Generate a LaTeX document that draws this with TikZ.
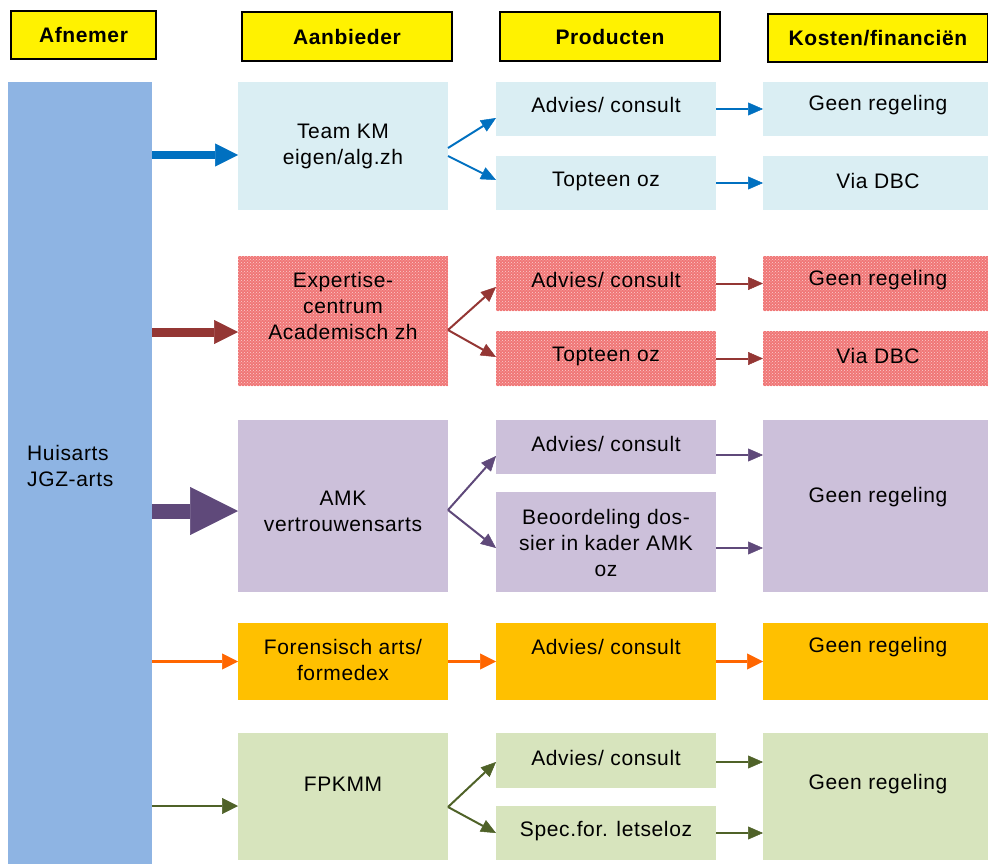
\documentclass[tikz,border=0pt]{standalone}
\usepackage{fontspec}
\setmainfont{Liberation Sans}[LetterSpace=3]
\usetikzlibrary{arrows.meta,patterns}
\definecolor{cCol}{RGB}{142,180,227}
\definecolor{cLB}{RGB}{218,238,243}
\definecolor{cRed}{RGB}{240,118,118}
\definecolor{cPur}{RGB}{204,192,218}
\definecolor{cOr}{RGB}{255,192,0}
\definecolor{cGr}{RGB}{215,228,189}
\definecolor{aB}{RGB}{0,112,192}
\definecolor{aR}{RGB}{148,54,52}
\definecolor{aP}{RGB}{95,73,122}
\definecolor{aO}{RGB}{255,102,0}
\definecolor{aG}{RGB}{79,98,40}
\begin{document}
\begin{tikzpicture}[x=1pt,y=-1pt,
  box/.style={inner sep=0pt, outer sep=0pt, anchor=north west, draw=none},
  redbox/.style={box, fill=cRed, postaction={pattern=crosshatch dots, pattern color=white!65!cRed}},
  hdr/.style={draw=black, line width=2pt, fill=yellow, inner sep=0pt, anchor=north west, font=\fontsize{21}{26}\selectfont\bfseries},
  txt/.style={align=center, inner sep=0pt, font=\fontsize{21}{26}\selectfont},
  thin/.style={line width=2pt, -{Triangle[length=15pt,width=13pt,line width=0.5pt]}},
  fat/.style={-{Triangle[length=#1pt,width=#1pt,line width=0.5pt]}}
]
\useasboundingbox (0,0) rectangle (988,864);
% headers
\node[hdr, minimum width=145, minimum height=48] (h1) at (10,10) {};
\node[txt, font=\fontsize{21}{26}\selectfont\bfseries] (h1t) at (h1.center) {Afnemer};
\node[hdr, minimum width=210, minimum height=49] (h2) at (241,11) {};
\node[txt, font=\fontsize{21}{26}\selectfont\bfseries] (h2t) at (h2.center) {Aanbieder};
\node[hdr, minimum width=220, minimum height=49] (h3) at (499,11) {};
\node[txt, font=\fontsize{21}{26}\selectfont\bfseries] (h3t) at (h3.center) {Producten};
\node[hdr, minimum width=220, minimum height=48] (h4) at (767,13) {};
\node[txt, font=\fontsize{21}{26}\selectfont\bfseries] (h4t) at (h4.center) {Kosten/financiën};
% column afnemer
\node[box, fill=cCol, minimum width=144, minimum height=782] (afn) at (8,82) {};
\node[txt, align=left, anchor=west] (afnt) at (27,466) {Huisarts\\JGZ-arts};
% aanbieder
\node[box, fill=cLB, minimum width=210, minimum height=128] (tkm) at (238,82) {};
\node[redbox, minimum width=210, minimum height=130] (exp) at (238,256) {};
\node[box, fill=cPur, minimum width=210, minimum height=172] (amk) at (238,420) {};
\node[box, fill=cOr, minimum width=210, minimum height=77] (for) at (238,623) {};
\node[box, fill=cGr, minimum width=210, minimum height=127] (fpk) at (238,733) {};
\node[txt] (tkmt) at (343,146) {Team KM\\eigen/alg.zh};
\node[txt] (expt) at (343,306) {Expertise-\\centrum\\Academisch zh};
\node[txt] (amkt) at (343,511) {AMK\\vertrouwensarts};
\node[txt] (fort) at (343,660) {Forensisch arts/\\formedex};
\node[txt] (fpkt) at (343,784) {FPKMM};
% producten
\node[box, fill=cLB, minimum width=220, minimum height=54] (p1a) at (496,82) {};
\node[box, fill=cLB, minimum width=220, minimum height=54] (p1b) at (496,156) {};
\node[redbox, minimum width=220, minimum height=55] (p2a) at (496,256) {};
\node[redbox, minimum width=220, minimum height=55] (p2b) at (496,331) {};
\node[box, fill=cPur, minimum width=220, minimum height=54] (p3a) at (496,420) {};
\node[box, fill=cPur, minimum width=220, minimum height=100] (p3b) at (496,492) {};
\node[box, fill=cOr, minimum width=220, minimum height=77] (p4) at (496,623) {};
\node[box, fill=cGr, minimum width=220, minimum height=55] (p5a) at (496,733) {};
\node[box, fill=cGr, minimum width=220, minimum height=54] (p5b) at (496,806) {};
\node[txt] (p1at) at (606,105) {Advies/ consult};
\node[txt] (p1bt) at (606,181) {Topteen oz};
\node[txt] (p2at) at (606,280) {Advies/ consult};
\node[txt] (p2bt) at (606,356) {Topteen oz};
\node[txt] (p3at) at (606,444) {Advies/ consult};
\node[txt] (p3bt) at (606,543) {Beoordeling dos-\\sier in kader AMK\\oz};
\node[txt] (p4t) at (606,647) {Advies/ consult};
\node[txt] (p5at) at (606,758) {Advies/ consult};
\node[txt] (p5bt) at (606,831) {Spec.for. letseloz};
% kosten
\node[box, fill=cLB, minimum width=225, minimum height=54] (k1a) at (763,82) {};
\node[box, fill=cLB, minimum width=225, minimum height=54] (k1b) at (763,156) {};
\node[redbox, minimum width=225, minimum height=55] (k2a) at (763,256) {};
\node[redbox, minimum width=225, minimum height=55] (k2b) at (763,331) {};
\node[box, fill=cPur, minimum width=225, minimum height=172] (k3) at (763,420) {};
\node[box, fill=cOr, minimum width=225, minimum height=77] (k4) at (763,623) {};
\node[box, fill=cGr, minimum width=225, minimum height=127] (k5) at (763,733) {};
\node[txt] (k1at) at (878,105) {Geen regeling};
\node[txt] (k1bt) at (878,181) {Via DBC};
\node[txt] (k2at) at (878,280) {Geen regeling};
\node[txt] (k2bt) at (878,356) {Via DBC};
\node[txt] (k3t) at (878,497) {Geen regeling};
\node[txt] (k4t) at (878,647) {Geen regeling};
\node[txt] (k5t) at (878,784) {Geen regeling};
% arrows afnemer -> aanbieder
\coordinate (bin) at ([yshift=-9pt]tkm.west);
\coordinate (rin) at ([yshift=-11pt]exp.west);
\coordinate (pin) at ([yshift=-5pt]amk.west);
\coordinate (gin) at ([yshift=-9.5pt]fpk.west);
\draw[aB, line width=8pt, fat=23] (afn.east |- bin) -- (bin);
\draw[aR, line width=9pt, fat=24] (afn.east |- rin) -- (rin);
\draw[aP, line width=15pt, fat=48] (afn.east |- pin) -- (pin);
\draw[aO, line width=3pt, fat=16] (afn.east |- for.west) -- (for.west);
\draw[aG, line width=2.5pt, fat=16] (afn.east |- gin) -- (gin);
% aanbieder -> producten
\draw[aB, thin] ([yshift=-2pt]tkm.east) -- ([yshift=-9pt]p1a.west);
\draw[aB, thin] ([yshift=-10pt]tkm.east) -- ([yshift=3pt]p1b.west);
\draw[aR, thin] ([yshift=-9pt]exp.east) -- ([yshift=-3.5pt]p2a.west);
\draw[aR, thin] ([yshift=-9pt]exp.east) -- ([yshift=1.5pt]p2b.west);
\draw[aP, thin] ([yshift=-4pt]amk.east) -- ([yshift=-9pt]p3a.west);
\draw[aP, thin] ([yshift=-4pt]amk.east) -- ([yshift=-6pt]p3b.west);
\draw[aO, line width=3pt, fat=16] (for.east) -- (p4.west);
\draw[aG, thin] ([yshift=-10.5pt]fpk.east) -- ([yshift=-1.5pt]p5a.west);
\draw[aG, thin] ([yshift=-10.5pt]fpk.east) -- (p5b.west);
% producten -> kosten
\draw[aB, thin] (p1a.east) -- (k1a.west);
\draw[aB, thin] (p1b.east) -- (k1b.west);
\draw[aR, thin] (p2a.east) -- (k2a.west);
\draw[aR, thin] (p2b.east) -- (k2b.west);
\coordinate (pk1) at ([yshift=-8pt]p3a.east);
\coordinate (pk2) at ([yshift=-6pt]p3b.east);
\draw[aP, thin] (pk1) -- (k3.west |- pk1);
\draw[aP, thin] (pk2) -- (k3.west |- pk2);
\draw[aO, line width=3pt, fat=16] (p4.east) -- (k4.west);
\coordinate (gk1) at ([yshift=-1.5pt]p5a.east);
\coordinate (gk2) at (p5b.east);
\draw[aG, thin] (gk1) -- (k5.west |- gk1);
\draw[aG, thin] (gk2) -- (k5.west |- gk2);
\end{tikzpicture}
\end{document}
